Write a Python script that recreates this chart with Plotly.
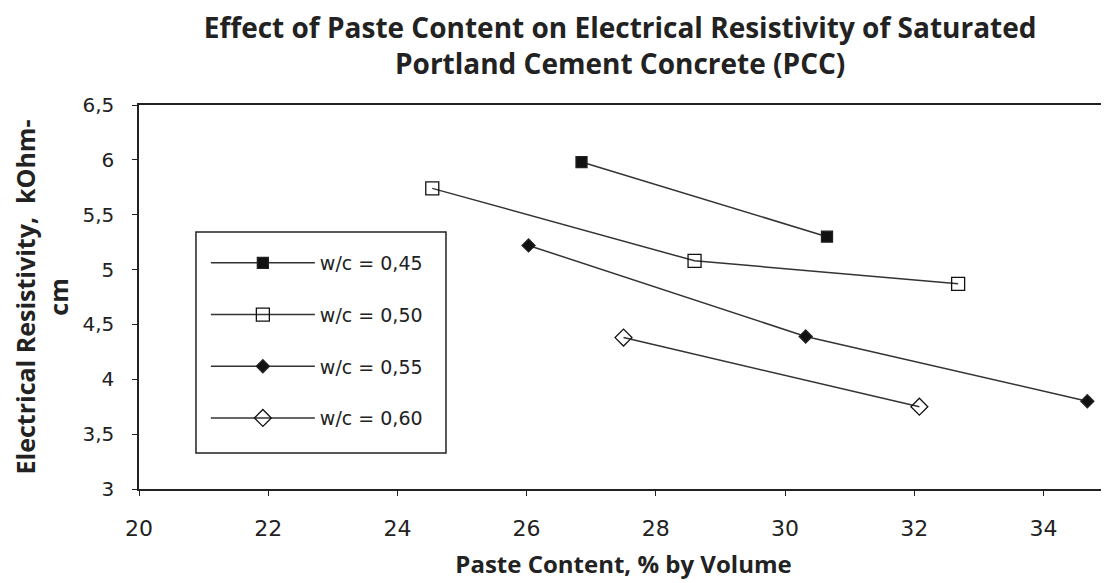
import plotly.graph_objects as go

names = ["w/c = 0,45", "w/c = 0,50", "w/c = 0,55", "w/c = 0,60"]
x45 = [26.85, 30.65]
y45 = [5.98, 5.30]
x50 = [24.54, 28.6, 32.68]
y50 = [5.74, 5.08, 4.87]
x55 = [26.03, 30.32, 34.68]
y55 = [5.22, 4.39, 3.80]
x60 = [27.5, 32.08]
y60 = [4.38, 3.75]

xs = [x45, x50, x55, x60]
ys = [y45, y50, y55, y60]
symbols = ["square", "square-open", "diamond", "diamond-open"]
sizes = [11, 13, 10, 13]

TFONT = "Open Sans"
NFONT = "DejaVu Sans"
fig = go.Figure()
for i in range(4):
    fig.add_trace(go.Scatter(
        x=xs[i], y=ys[i], mode="lines+markers", name=names[i],
        legendgroup=names[i],
        line=dict(color="#333333", width=1.5),
        marker=dict(symbol=symbols[i], size=sizes[i], color="#111111",
                    line=dict(color="#222222", width=1.3)),
    ))

# legend frame
fig.add_shape(type="rect", xref="paper", yref="paper",
              x0=0.0588, x1=0.3168, y0=0.094, y1=0.669,
              line=dict(color="#222222", width=1.5), fillcolor="white", layer="below")

fig.update_layout(
    width=1101, height=575,
    paper_bgcolor="white", plot_bgcolor="white",
    separators=",.",
    margin=dict(l=131, r=1, t=97, b=94),
    font=dict(family=NFONT, color="#222222", size=20),
    title=dict(text="<b>Effect of Paste Content on Electrical Resistivity of Saturated<br>Portland Cement Concrete (PCC)</b>",
               x=0.556, xanchor="center", xref="container", y=1 - 30 / 575, yanchor="middle", yref="container",
               font=dict(family=TFONT, size=28, color="#222222")),
    showlegend=True,
    legend=dict(x=0.069, y=0.638, xanchor="left", yanchor="top",
                borderwidth=0, bgcolor="rgba(0,0,0,0)",
                font=dict(family=NFONT, size=19, color="#222222"),
                itemwidth=104, tracegroupgap=24),
)
fig.update_xaxes(range=[20, 35], tick0=20, dtick=2, showline=True, linecolor="#222222",
                 linewidth=1.5, mirror=True, ticks="outside", ticklen=5,
                 tickcolor="#222222", showgrid=False, zeroline=False, automargin=False,
                 ticklabelstandoff=14, tickfont=dict(family=NFONT, size=22),
                 title=dict(text="<b>Paste Content, % by Volume</b>",
                            font=dict(family=TFONT, size=24), standoff=16))
fig.update_yaxes(range=[3, 6.5], tick0=3, dtick=0.5, showline=True, linecolor="#222222",
                 linewidth=1.5, mirror=True, ticks="outside", ticklen=5,
                 tickcolor="#222222", showgrid=False, zeroline=False, automargin=False,
                 ticklabelstandoff=14, tickfont=dict(family=NFONT, size=20),
                 title=dict(text="<b>Electrical Resistivity,  kOhm-<br>cm</b>",
                            font=dict(family=TFONT, size=25), standoff=11))
fig.write_html("out.html")
